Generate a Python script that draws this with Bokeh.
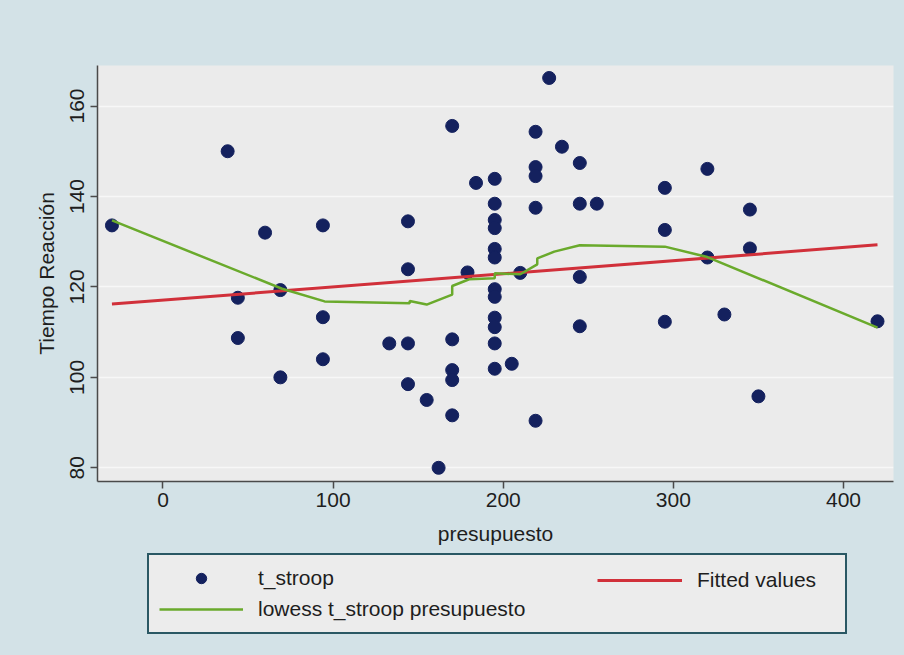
from bokeh.plotting import figure
from bokeh.layouts import column
from bokeh.models import Legend, LegendItem, FixedTicker, ColumnDataSource
from bokeh.embed import file_html
from bokeh.resources import INLINE

# ---- data ----
presupuesto = [-30, 38, 44, 44, 60, 69, 69, 94, 94, 94,
               133, 144, 144, 144, 144, 155, 162, 170, 170, 170,
               170, 170, 179, 184, 195, 195, 195, 195, 195, 195,
               195, 195, 195, 195, 195, 195, 205, 210, 219, 219,
               219, 219, 219, 227, 234.5, 245, 245, 245, 245, 255,
               295, 295, 295, 320, 320, 330, 345, 345, 350, 420]
t_stroop = [133.6, 150.0, 117.6, 108.7, 132.0, 119.3, 100.0, 133.6, 113.3, 104.0,
            107.5, 134.5, 123.9, 107.5, 98.5, 95.0, 80.0, 155.6, 108.4, 101.6,
            99.4, 91.6, 123.2, 143.0, 143.9, 138.4, 134.8, 133.0, 128.4, 126.5,
            119.5, 117.8, 113.2, 111.1, 107.5, 101.9, 103.0, 123.1, 154.3, 146.5,
            144.5, 137.5, 90.4, 166.2, 151.0, 147.4, 138.4, 122.2, 111.3, 138.4,
            141.9, 132.6, 112.3, 146.1, 126.5, 113.9, 137.1, 128.5, 95.8, 112.4]

fit_x = [-30, 420]
fit_y = [116.2, 129.3]

lowess_x = [-30, 70, 95, 145, 145, 155, 170, 170, 180, 195, 195, 210, 220, 220, 230, 245, 295, 320, 420]
lowess_y = [134.7, 119.6, 116.8, 116.4, 116.9, 116.1, 118.3, 120.2, 121.7, 121.9, 123.0, 122.8, 125.0, 126.3, 127.8, 129.2, 128.9, 126.6, 111.0]

x_ticks = [0, 100, 200, 300, 400]
y_ticks = [80, 100, 120, 140, 160]

legend_labels = ["t_stroop", "Fitted values", "lowess t_stroop presupuesto"]

FONT = "Liberation Sans"
TXT = "#1e1e1e"
AX = "#4a4a4a"
BLUE = "#d3e2e7"
DOT = "#14215e"
RED = "#d1303a"
GREEN = "#6aaa2c"

BORDERS = dict(min_border_left=97, min_border_right=11)

p = figure(width=904, height=552, x_range=(-38.5, 429.4), y_range=(76.97, 168.96),
           output_backend="svg", toolbar_location=None,
           min_border_top=65, min_border_bottom=71, **BORDERS)
p.background_fill_color = "#ebebeb"
p.border_fill_color = BLUE
p.outline_line_color = None

p.xgrid.visible = False
p.ygrid.ticker = FixedTicker(ticks=y_ticks)
p.ygrid.grid_line_color = "#f7f7f7"
p.ygrid.grid_line_width = 1.5

for ax in (p.xaxis, p.yaxis):
    ax.axis_line_color = AX
    ax.axis_line_width = 1.5
    ax.major_tick_line_color = AX
    ax.major_tick_line_width = 1.5
    ax.major_tick_out = 7
    ax.major_tick_in = 0
    ax.minor_tick_out = 0
    ax.minor_tick_in = 0
    ax.major_label_text_font = FONT
    ax.major_label_text_font_size = "21px"
    ax.major_label_text_color = TXT
    ax.axis_label_text_font = FONT
    ax.axis_label_text_font_size = "21px"
    ax.axis_label_text_font_style = "normal"
    ax.axis_label_text_color = TXT

p.xaxis.ticker = FixedTicker(ticks=x_ticks)
p.yaxis.ticker = FixedTicker(ticks=y_ticks)
p.xaxis.axis_label = "presupuesto"
p.yaxis.axis_label = "Tiempo Reacción"
p.xaxis.major_label_standoff = 4
p.xaxis.axis_label_standoff = 12
p.yaxis.major_label_orientation = "vertical"
p.yaxis.major_label_standoff = 6
p.yaxis.axis_label_standoff = 10

src = ColumnDataSource(dict(x=presupuesto, y=t_stroop))
p.scatter("x", "y", source=src, size=13, color=DOT)
p.line(fit_x, fit_y, line_color=RED, line_width=3)
p.line(lowess_x, lowess_y, line_color=GREEN, line_width=2.5)

# ---- legend strip below the plot (its ranges keep the data out of view) ----
lg = figure(width=904, height=103, x_range=(1000, 1001), y_range=(1000, 1001),
            output_backend="svg", toolbar_location=None,
            x_axis_location=None, y_axis_location=None,
            min_border_top=0, min_border_bottom=0, **BORDERS)
lg.background_fill_color = None
lg.border_fill_color = BLUE
lg.outline_line_color = None
lg.grid.visible = False

k_sc = lg.scatter(presupuesto, t_stroop, size=12, color=DOT)
k_fit = lg.line(fit_x, fit_y, line_color=RED, line_width=3)
k_low = lg.line(lowess_x, lowess_y, line_color=GREEN, line_width=2.5)

common = dict(label_text_font=FONT, label_text_font_size="21px", label_text_color=TXT,
              glyph_height=26, label_standoff=15)

legA = Legend(items=[LegendItem(label=legend_labels[0], renderers=[k_sc]),
                     LegendItem(label=legend_labels[2], renderers=[k_low])],
              location=(50, 21), orientation="vertical", glyph_width=84,
              spacing=5, padding=10, label_width=577,
              background_fill_color="#ececec", background_fill_alpha=1.0,
              border_line_color="#2a5864", border_line_width=2.5, border_line_alpha=1.0,
              **common)
legB = Legend(items=[LegendItem(label=legend_labels[1], renderers=[k_fit])],
              location=(500, 62), glyph_width=85, padding=0,
              background_fill_alpha=0.0, border_line_color=None, **common)
lg.add_layout(legA)
lg.add_layout(legB)

layout = column(p, lg, spacing=0, styles={"background-color": BLUE})
open("out.html", "w").write(file_html(layout, INLINE))
